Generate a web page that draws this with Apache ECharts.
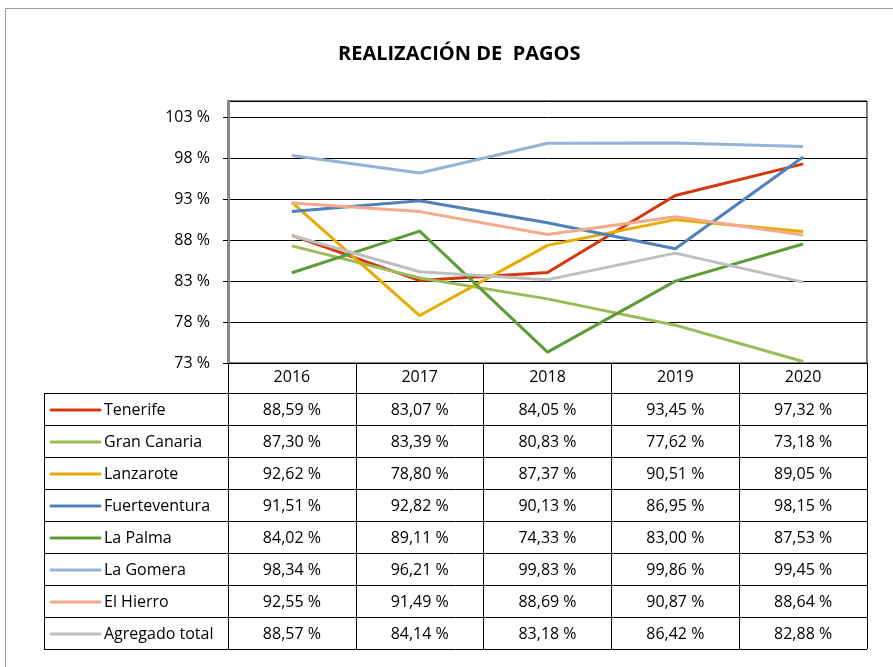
<!DOCTYPE html>
<html>
<head>
<meta charset="UTF-8">
<title>Realización de pagos</title>
<script src="https://cdn.jsdelivr.net/npm/echarts@6/dist/echarts.min.js"></script>
<style>
  html, body { margin: 0; padding: 0; background: #fff; }
  #chart { width: 893px; height: 667px; }
</style>
</head>
<body>
<div id="chart"></div>
<script>
var years = ['2016', '2017', '2018', '2019', '2020'];
var names = ['Tenerife', 'Gran Canaria', 'Lanzarote', 'Fuerteventura', 'La Palma', 'La Gomera', 'El Hierro', 'Agregado total'];
var tenerife      = [88.59, 83.07, 84.05, 93.45, 97.32];
var granCanaria   = [87.30, 83.39, 80.83, 77.62, 73.18];
var lanzarote     = [92.62, 78.80, 87.37, 90.51, 89.05];
var fuerteventura = [91.51, 92.82, 90.13, 86.95, 98.15];
var laPalma       = [84.02, 89.11, 74.33, 83.00, 87.53];
var laGomera      = [98.34, 96.21, 99.83, 99.86, 99.45];
var elHierro      = [92.55, 91.49, 88.69, 90.87, 88.64];
var agregado      = [88.57, 84.14, 83.18, 86.42, 82.88];
var yTicks = [73, 78, 83, 88, 93, 98, 103];

var values = [tenerife, granCanaria, lanzarote, fuerteventura, laPalma, laGomera, elHierro, agregado];
var colors = ['#D4380C', '#9BBB59', '#E6AC00', '#4F81BD', '#5E9C3A', '#95B3D7', '#F4A98A', '#BFBFBF'];

var font = '"Open Sans", "Noto Sans", sans-serif';
var fs = 16;
var gridL = 228, gridR = 867, gridT = 101, gridB = 363;
var tableL = 44, rowTop = 393, rowH = 32;

function fmt(v) {
    return v.toFixed(2).replace('.', ',') + ' %';
}

var chart = echarts.init(document.getElementById('chart'));

var series = names.map(function (n, i) {
    return {
        name: n,
        type: 'line',
        data: values[i],
        symbol: 'none',
        lineStyle: { width: 3, color: colors[i] },
        itemStyle: { color: colors[i] }
    };
});

chart.setOption({
    animation: false,
    title: {
        text: 'REALIZACIÓN DE  PAGOS',
        left: 333,
        top: 39,
        textStyle: { fontFamily: font, fontSize: 20, fontWeight: 'bold', color: '#000' }
    },
    grid: {
        left: gridL, right: 893 - gridR, top: gridT, bottom: 667 - gridB,
        show: true, borderColor: '#000', borderWidth: 1
    },
    xAxis: {
        type: 'category',
        data: years,
        boundaryGap: true,
        axisLine: { lineStyle: { color: '#000', width: 1 } },
        axisTick: { show: true, length: rowTop + rowH * names.length - gridB, lineStyle: { color: '#000' } },
        axisLabel: { fontFamily: font, fontSize: fs, color: '#000', margin: 6 }
    },
    yAxis: {
        type: 'value',
        min: yTicks[0],
        max: 105,
        interval: 5,
        axisLine: { show: true, lineStyle: { color: '#888', width: 3 } },
        axisTick: { show: true, length: 5, lineStyle: { color: '#000' } },
        splitLine: { lineStyle: { color: '#000', width: 1 } },
        axisLabel: {
            fontFamily: font, fontSize: fs, color: '#000', margin: 18,
            showMaxLabel: false,
            formatter: function (v) { return yTicks.indexOf(v) >= 0 ? v + ' %' : ''; }
        }
    },
    series: series
});

// tabla de datos debajo del gráfico
var g = [];
g.push({
    type: 'polyline', silent: true,
    shape: { points: [[5.5, 700], [5.5, 8.5], [900, 8.5]] },
    style: { stroke: '#999', lineWidth: 1, fill: null }
});
for (var r = 0; r <= names.length; r++) {
    var y = rowTop + r * rowH + 0.5;
    g.push({
        type: 'line', silent: true,
        shape: { x1: tableL, y1: y, x2: gridR, y2: y },
        style: { stroke: '#000', lineWidth: 1 }
    });
}
g.push({
    type: 'line', silent: true,
    shape: { x1: tableL + 0.5, y1: rowTop, x2: tableL + 0.5, y2: rowTop + rowH * names.length },
    style: { stroke: '#000', lineWidth: 1 }
});

var colX = years.map(function (yr) { return chart.convertToPixel({ xAxisIndex: 0 }, yr); });

names.forEach(function (n, i) {
    var cy = rowTop + i * rowH + rowH / 2 + 1;
    g.push({
        type: 'line', silent: true,
        shape: { x1: 51, y1: cy, x2: 100, y2: cy },
        style: { stroke: colors[i], lineWidth: 3, lineCap: 'round' }
    });
    g.push({
        type: 'text', silent: true, x: 104, y: cy,
        style: { text: n, fontFamily: font, fontSize: fs, fill: '#000', verticalAlign: 'middle', align: 'left' }
    });
    values[i].forEach(function (v, j) {
        g.push({
            type: 'text', silent: true, x: colX[j], y: cy,
            style: { text: fmt(v), fontFamily: font, fontSize: fs, fill: '#000', verticalAlign: 'middle', align: 'center' }
        });
    });
});

chart.setOption({ graphic: g });
</script>
</body>
</html>
